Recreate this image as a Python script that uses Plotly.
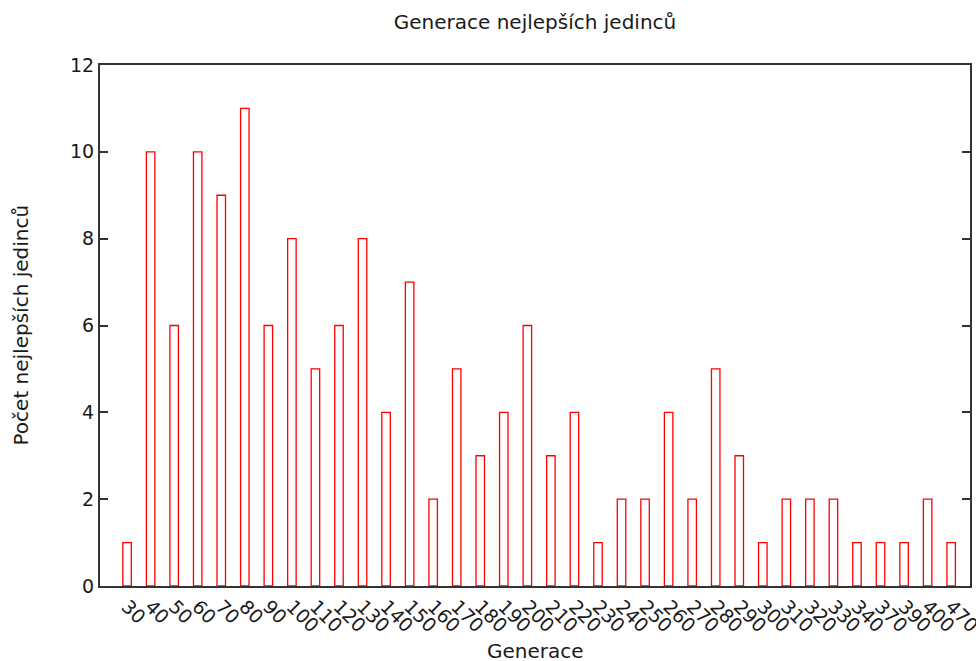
import plotly.graph_objects as go

categories = ["30", "40", "50", "60", "70", "80", "90", "100", "110", "120", "130", "140",
              "150", "160", "170", "180", "190", "200", "210", "220", "230", "240", "250",
              "260", "270", "280", "290", "300", "310", "320", "330", "340", "370", "390",
              "400", "470"]
counts = [1, 10, 6, 10, 9, 11, 6, 8, 5, 6, 8, 4, 7, 2, 5, 3, 4, 6, 3, 4, 1, 2, 2, 4, 2, 5,
          3, 1, 2, 2, 2, 1, 1, 1, 2, 1]

idx = list(range(len(categories)))
font = "DejaVu Sans"
tc = "#1a1a1a"

W, H = 976, 661
L, R, T, B = 100, 6, 65, 75
pw, ph = W - L - R, H - T - B

fig = go.Figure(go.Bar(
    x=idx, y=counts, width=0.36,
    marker=dict(color="rgba(255,255,255,0)", line=dict(color="#ff0000", width=1.3)),
))

fig.update_layout(
    width=W, height=H,
    margin=dict(l=L, r=R, t=T, b=B, autoexpand=False),
    paper_bgcolor="white", plot_bgcolor="white",
    showlegend=False,
    font=dict(family=font, size=19, color=tc),
    title=dict(text="Generace nejlepších jedinců", x=0.5, xref="paper", xanchor="center",
               y=1 - 22 / H, yanchor="middle", font=dict(family=font, size=20, color=tc)),
    xaxis=dict(
        range=[-1.15, 35.8], tickmode="array", tickvals=idx, ticktext=categories,
        tickangle=45, ticks="", showgrid=False, zeroline=False, automargin=False,
        ticklabeloverflow="allow",
        showline=True, linecolor="#333", linewidth=2, mirror=True,
        tickfont=dict(family=font, size=19, color=tc),
    ),
    yaxis=dict(
        range=[0, 12], dtick=2, ticks="inside", ticklen=8, tickwidth=1.5, tickcolor="#333",
        showgrid=False, zeroline=False, automargin=False,
        showline=True, linecolor="#333", linewidth=2, mirror="allticks",
        tickfont=dict(family=font, size=19, color=tc),
    ),
    annotations=[
        dict(text="Generace", xref="paper", yref="paper", x=0.5, y=(586 - 651) / ph,
             xanchor="center", yanchor="middle", showarrow=False,
             font=dict(family=font, size=20, color=tc)),
        dict(text="Počet nejlepších jedinců", xref="paper", yref="paper",
             x=(20 - L) / pw, y=0.5, textangle=-90, xanchor="center", yanchor="middle",
             showarrow=False, font=dict(family=font, size=20, color=tc)),
    ],
)

fig.write_html("out.html", config={"displayModeBar": False},
               post_script="document.body.style.margin='0';")
